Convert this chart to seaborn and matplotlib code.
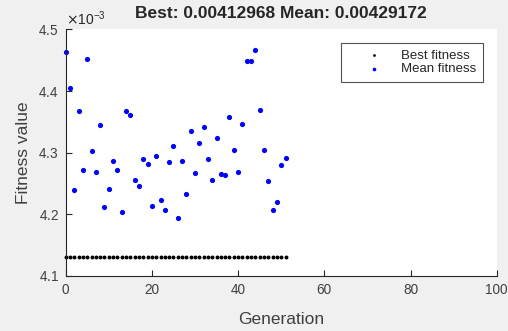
import numpy as np
import pandas as pd
import matplotlib
matplotlib.use("Agg")
import matplotlib.pyplot as plt
import seaborn as sns

# Genetic algorithm progress per generation (values in units of 1e-3)
generations = list(range(52))
best_fitness = [4.12968] * 52
mean_fitness = [
    4.464, 4.405, 4.240, 4.368, 4.272, 4.4525, 4.302, 4.269, 4.345, 4.211,
    4.241, 4.287, 4.272, 4.204, 4.368, 4.361, 4.255, 4.245, 4.289, 4.282,
    4.2135, 4.294, 4.223, 4.206, 4.285, 4.311, 4.193, 4.286, 4.233, 4.3345,
    4.2667, 4.3154, 4.3415, 4.290, 4.2558, 4.3236, 4.2645, 4.263, 4.358, 4.3046,
    4.269, 4.347, 4.449, 4.449, 4.466, 4.369, 4.304, 4.2537, 4.207, 4.219,
    4.280, 4.29172,
]
series_names = ["Best fitness", "Mean fitness"]
x_ticks = [0, 20, 40, 60, 80, 100]
y_ticks = [4.1, 4.2, 4.3, 4.4, 4.5]

best_df = pd.DataFrame({"Generation": generations,
                        "Fitness": np.array(best_fitness) * 1e-3})
mean_df = pd.DataFrame({"Generation": generations,
                        "Fitness": np.array(mean_fitness) * 1e-3})

sns.set_style("white")
plt.rcParams["font.family"] = ["Liberation Sans", "DejaVu Sans"]

fig = plt.figure(figsize=(5.08, 3.31), dpi=100, facecolor="#f0f0f0")
ax = fig.add_axes([0.1293, 0.167, 0.8485, 0.744])
ax.set_facecolor("white")

sns.scatterplot(data=best_df, x="Generation", y="Fitness", color="black",
                marker="o", s=8, linewidth=0, ax=ax, label=series_names[0])
sns.scatterplot(data=mean_df, x="Generation", y="Fitness", color="blue",
                marker="o", s=14, linewidth=0, ax=ax, label=series_names[1])
for coll in ax.collections:
    coll.set_clip_on(False)

ax.set_xlim(0, 100)
ax.set_ylim(4.1e-3, 4.5e-3)
ax.set_xticks(x_ticks)
ax.set_yticks([v * 1e-3 for v in y_ticks])
ax.ticklabel_format(axis="y", style="sci", scilimits=(-3, -3), useMathText=True, useOffset=False)
ax.yaxis.get_offset_text().set_fontsize(10)
ax.yaxis.get_offset_text().set_color("#404040")

for side in ["top", "right"]:
    ax.spines[side].set_visible(False)
for side in ["left", "bottom"]:
    ax.spines[side].set_color("#262626")
    ax.spines[side].set_linewidth(0.8)
ax.tick_params(direction="in", length=4, width=0.8, colors="#262626", labelsize=9.8,
               left=True, bottom=True, pad=5)
for lbl in ax.get_xticklabels() + ax.get_yticklabels():
    lbl.set_color("#404040")

ax.set_xlabel("Generation", fontsize=12.5, color="#404040", labelpad=11)
ax.set_ylabel("Fitness value", fontsize=12.5, color="#404040", labelpad=5)
ax.set_title("Best: 0.00412968 Mean: 0.00429172", fontsize=12.5, fontweight="bold", pad=8)

leg = ax.legend(loc="upper right", bbox_to_anchor=(0.9685, 0.945), frameon=True,
                fancybox=False, edgecolor="#262626", fontsize=9.5, markerscale=0.7,
                handlelength=4, handletextpad=0.1, borderpad=0.5, labelspacing=0.1,
                borderaxespad=0)
leg.get_frame().set_linewidth(0.8)
for txt in leg.get_texts():
    txt.set_color("#262626")

fig.savefig("out.png", dpi=100, facecolor=fig.get_facecolor())
